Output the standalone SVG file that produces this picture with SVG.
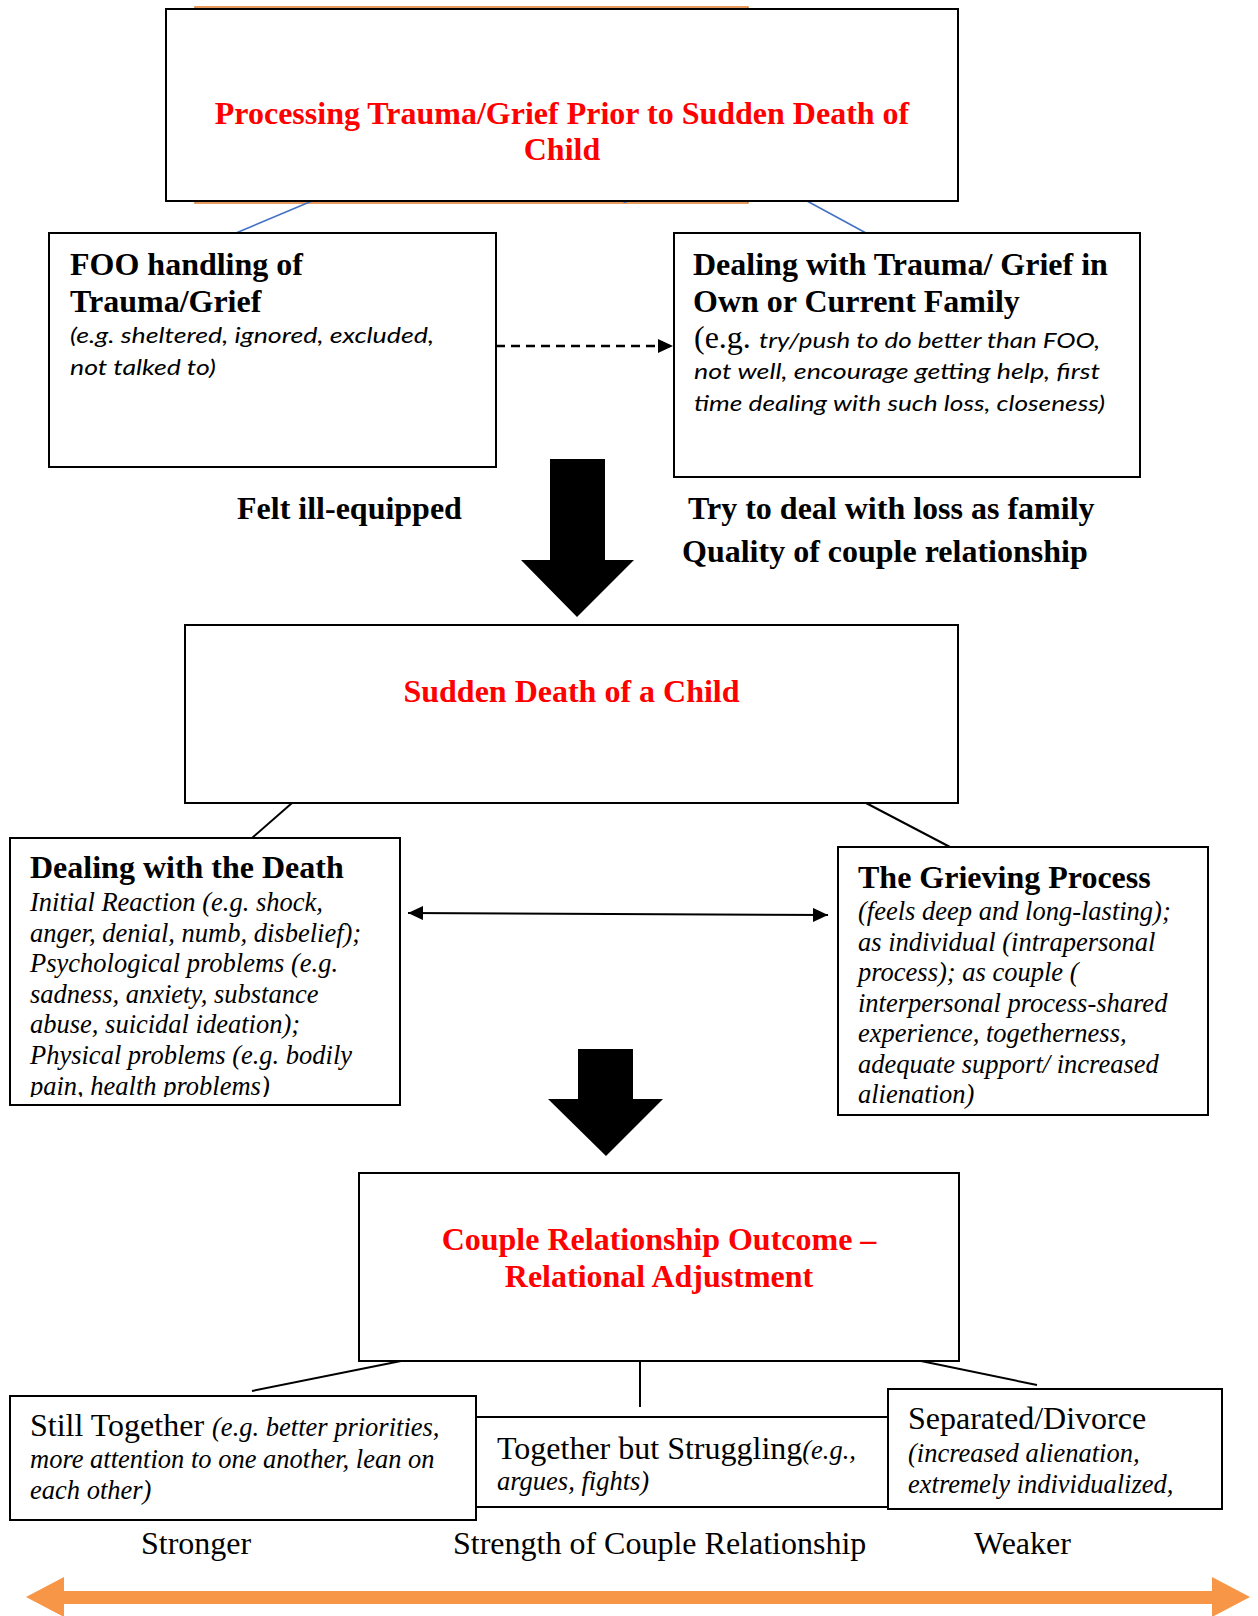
<svg xmlns="http://www.w3.org/2000/svg" width="1258" height="1616" viewBox="0 0 1258 1616">
<style>
.box{fill:#fff;stroke:#000;stroke-width:2}
.ttl{font-family:"Liberation Serif",serif;font-weight:bold;font-size:32px;fill:#000}
.red{font-family:"Liberation Serif",serif;font-weight:bold;font-size:32px;fill:#ff0000}
.reg{font-family:"Liberation Serif",serif;font-size:32px;fill:#000}
.it{font-family:"Liberation Serif",serif;font-style:italic;font-size:26.5px;fill:#000}
.cal{font-family:Lato,"Liberation Sans",sans-serif;font-style:italic;font-size:22px;fill:#000}
.con{stroke:#000;stroke-width:2;fill:none}
.blue{stroke:#4472c4;stroke-width:1.6;fill:none}
</style>
<defs>
<marker id="ah" markerWidth="16" markerHeight="14" refX="15" refY="7" orient="auto" markerUnits="userSpaceOnUse">
<path d="M0,0 L15,7 L0,14 Z" fill="#000"/>
</marker>
<marker id="ahs" markerWidth="16" markerHeight="14" refX="1" refY="7" orient="auto" markerUnits="userSpaceOnUse">
<path d="M16,0 L1,7 L16,14 Z" fill="#000"/>
</marker>
<clipPath id="clipDeath"><rect x="10" y="838" width="390" height="259"/></clipPath>
</defs>

<g id="connectors">
<rect x="195" y="7" width="553" height="196" fill="none" stroke="#e07b2a" stroke-width="1.5"/>
<line class="blue" x1="312" y1="201" x2="236" y2="233"/>
<line class="blue" x1="807" y1="201" x2="866" y2="233"/>
<line x1="625" y1="199" x2="625" y2="203" stroke="#4472c4" stroke-width="3"/>
<line x1="496" y1="346" x2="673" y2="346" stroke="#000" stroke-width="2.5" stroke-dasharray="9,6" marker-end="url(#ah)"/>
<polygon points="550,459 605,459 605,560 634,560 577,617 521,560 550,560" fill="#000"/>
<line class="con" x1="292" y1="803" x2="252" y2="838"/>
<line class="con" x1="866" y1="803" x2="950" y2="847"/>
<line class="con" x1="408" y1="913" x2="828" y2="915" marker-start="url(#ahs)" marker-end="url(#ah)"/>
<polygon points="578,1049 633,1049 633,1099 663,1099 606,1156 548,1099 578,1099" fill="#000"/>
<line class="con" x1="401" y1="1361" x2="252" y2="1391"/>
<line class="con" x1="640" y1="1361" x2="640" y2="1407"/>
<line class="con" x1="921" y1="1361" x2="1037" y2="1385"/>
<polygon points="26,1597 64,1577 64,1591 1212,1591 1212,1577 1250,1597 1212,1617 1212,1604 64,1604 64,1617" fill="#f79646"/>
</g>

<g id="node-processing">
<rect class="box" x="166" y="9" width="792" height="192"/>
<text class="red" x="562" y="124" text-anchor="middle">Processing Trauma/Grief Prior to Sudden Death of</text>
<text class="red" x="562" y="160" text-anchor="middle">Child</text>
</g>

<g id="node-foo">
<rect class="box" x="49" y="233" width="447" height="234"/>
<text class="ttl" x="70" y="275">FOO handling of</text>
<text class="ttl" x="70" y="312">Trauma/Grief</text>
<text class="cal" x="70" y="343" textLength="364" lengthAdjust="spacingAndGlyphs">(e.g. sheltered, ignored, excluded,</text>
<text class="cal" x="70" y="375" textLength="146" lengthAdjust="spacingAndGlyphs">not talked to)</text>
</g>

<g id="node-current-family">
<rect class="box" x="674" y="233" width="466" height="244"/>
<text class="ttl" x="693" y="275">Dealing with Trauma/ Grief in</text>
<text class="ttl" x="693" y="312">Own or Current Family</text>
<text x="694" y="348" font-family="Liberation Serif, serif" font-size="32px">(e.g. </text>
<text class="cal" x="759" y="348" textLength="341" lengthAdjust="spacingAndGlyphs">try/push to do better than FOO,</text>
<text class="cal" x="694" y="379" textLength="406" lengthAdjust="spacingAndGlyphs">not well, encourage getting help, first</text>
<text class="cal" x="694" y="411" textLength="411" lengthAdjust="spacingAndGlyphs">time dealing with such loss, closeness)</text>
</g>

<g id="labels-mid">
<text class="ttl" x="237" y="519">Felt ill-equipped</text>
<text class="ttl" x="688" y="519">Try to deal with loss as family</text>
<text class="ttl" x="682" y="562">Quality of couple relationship</text>
</g>

<g id="node-sudden">
<rect class="box" x="185" y="625" width="773" height="178"/>
<text class="red" x="571.5" y="702" text-anchor="middle">Sudden Death of a Child</text>
</g>

<g id="node-dealing-death">
<rect class="box" x="10" y="838" width="390" height="267"/>
<text class="ttl" x="30" y="878">Dealing with the Death</text>
<g clip-path="url(#clipDeath)">
<text class="it" x="30" y="911">Initial Reaction (e.g. shock,</text>
<text class="it" x="30" y="942">anger, denial, numb, disbelief);</text>
<text class="it" x="30" y="972">Psychological problems (e.g.</text>
<text class="it" x="30" y="1003">sadness, anxiety, substance</text>
<text class="it" x="30" y="1033">abuse, suicidal ideation);</text>
<text class="it" x="30" y="1064">Physical problems (e.g. bodily</text>
<text class="it" x="30" y="1095">pain, health problems)</text>
</g>
</g>

<g id="node-grieving">
<rect class="box" x="838" y="847" width="370" height="268"/>
<text class="ttl" x="858" y="888">The Grieving Process</text>
<text class="it" x="858" y="920">(feels deep and long-lasting);</text>
<text class="it" x="858" y="951">as individual (intrapersonal</text>
<text class="it" x="858" y="981">process); as couple (</text>
<text class="it" x="858" y="1012">interpersonal process-shared</text>
<text class="it" x="858" y="1042">experience, togetherness,</text>
<text class="it" x="858" y="1073">adequate support/ increased</text>
<text class="it" x="858" y="1103">alienation)</text>
</g>

<g id="node-outcome">
<rect class="box" x="359" y="1173" width="600" height="188"/>
<text class="red" x="659" y="1250" text-anchor="middle">Couple Relationship Outcome –</text>
<text class="red" x="659" y="1287" text-anchor="middle">Relational Adjustment</text>
</g>

<g id="node-struggling">
<rect class="box" x="476" y="1417" width="412" height="90"/>
<text x="497" y="1459"><tspan class="reg">Together but Struggling</tspan><tspan class="it">(e.g.,</tspan></text>
<text class="it" x="497" y="1490">argues, fights)</text>
</g>

<g id="node-still-together">
<rect class="box" x="10" y="1396" width="466" height="124"/>
<text x="30" y="1436"><tspan class="reg">Still Together </tspan><tspan class="it">(e.g. better priorities,</tspan></text>
<text class="it" x="30" y="1468">more attention to one another, lean on</text>
<text class="it" x="30" y="1499">each other)</text>
</g>

<g id="node-separated">
<rect class="box" x="888" y="1389" width="334" height="120"/>
<text class="reg" x="908" y="1429">Separated/Divorce</text>
<text class="it" x="908" y="1462">(increased alienation,</text>
<text class="it" x="908" y="1493">extremely individualized,</text>
</g>

<g id="labels-bottom">
<text class="reg" x="141" y="1554">Stronger</text>
<text class="reg" x="453" y="1554">Strength of Couple Relationship</text>
<text class="reg" x="974" y="1554">Weaker</text>
</g>
</svg>
